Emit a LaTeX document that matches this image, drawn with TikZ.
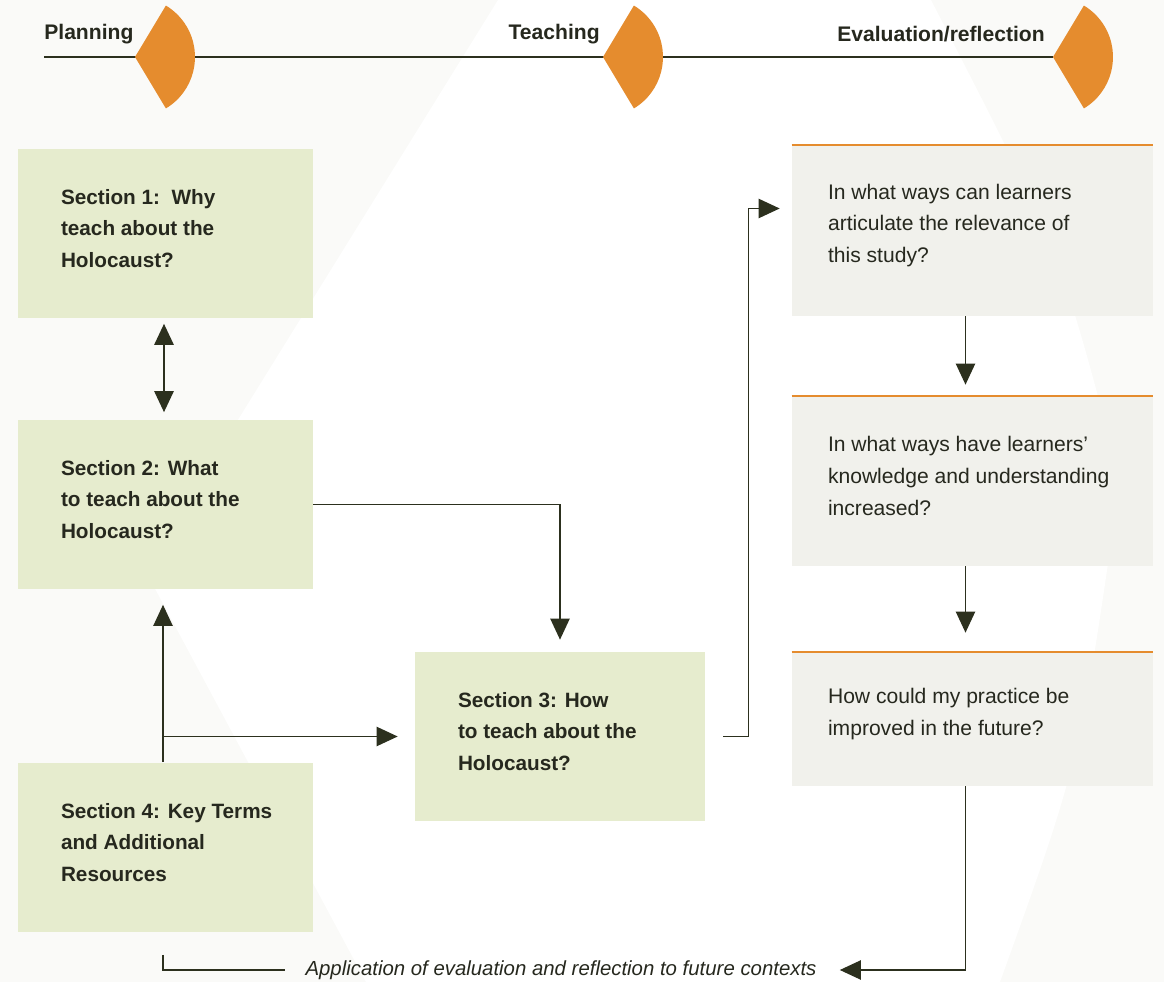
\documentclass[tikz,border=0pt]{standalone}
\usepackage{fontspec}
\setmainfont{Liberation Sans}
\usepackage{tikz}
\usetikzlibrary{calc,arrows.meta}
\definecolor{boxgreen}{RGB}{230,236,206}
\definecolor{boxgrey}{RGB}{241,241,236}
\definecolor{markorange}{RGB}{229,140,46}
\definecolor{linedark}{RGB}{44,48,30}
\definecolor{textdark}{RGB}{38,40,30}
\definecolor{paper}{RGB}{250,250,248}
\tikzstyle{section} = [rectangle, fill=boxgreen, minimum width=5.9cm, minimum height=3.4cm, inner sep=0pt]
\tikzstyle{question} = [rectangle, fill=boxgrey, minimum width=7.22cm, minimum height=3.42cm, inner sep=0pt]
\tikzstyle{sectext} = [anchor=west, inner sep=0pt, xshift=0.86cm, yshift=0.1cm, align=left, text=textdark, font=\bfseries\fontsize{11.8}{18.1}\selectfont]
\tikzstyle{questext} = [anchor=west, inner sep=0pt, xshift=0.72cm, yshift=0.1cm, align=left, text=textdark, font=\fontsize{12}{18.1}\selectfont]
\tikzstyle{phase} = [text=textdark, font=\bfseries\fontsize{12}{14}\selectfont, inner sep=0pt]
\tikzstyle{link} = [draw=linedark, line width=0.8pt, -{Triangle[length=12pt,width=11pt]}]

\begin{document}
\begin{tikzpicture}[x=0.02cm, y=-0.02cm]
%% Background %%
\fill[paper] (0,0) rectangle (1164,982);
\fill[white] (498,0) -- (931,0) .. controls (1060,250) .. (1120,480) .. controls (1080,760) .. (1000,982) -- (366,982) -- (145,570) -- cycle;
\useasboundingbox (0,0) rectangle (1164,982);

%% Timeline %%
\coordinate (tlstart) at (44,57);
\coordinate (planmark) at (135,57);
\coordinate (teachmark) at (603,57);
\coordinate (evalmark) at (1053,57);
\draw[linedark, line width=0.8pt] (tlstart) -- (evalmark);
\foreach \m in {planmark,teachmark,evalmark}
  \fill[markorange] (\m) -- ++(59:60) arc[start angle=59, end angle=-59, radius=60] -- cycle;
\node[phase, anchor=west] (plan) at (44,34) {Planning};
\node[phase, anchor=east] (teach) at (600,34) {Teaching};
\node[phase, anchor=east] (evalu) at (1045,34) {Evaluation/reflection};

%% Sections %%
\node[section, label={[sectext]west:{Section 1:\ \ Why\\teach about the\\Holocaust?}}] (S1) at (165.5,233.5) {};
\node[section, label={[sectext]west:{Section 2: What\\to teach about the\\Holocaust?}}] (S2) at ($(S1)+(0,271)$) {};
\node[section, label={[sectext]west:{Section 4: Key Terms\\and Additional\\Resources}}] (S4) at ($(S2)+(0,343)$) {};
\node[section, minimum width=5.8cm, minimum height=3.38cm, label={[sectext]west:{Section 3: How\\to teach about the\\Holocaust?}}] (S3) at (560,736.5) {};

%% Questions %%
\node[question, label={[questext]west:{In what ways can learners\\articulate the relevance of\\this study?}}] (Q1) at (972.5,230.5) {};
\node[question, minimum height=3.4cm, label={[questext]west:{In what ways have learners'\\knowledge and understanding\\increased?}}] (Q2) at ($(Q1)+(0,250.5)$) {};
\node[question, minimum height=2.68cm, label={[questext]west:{How could my practice be\\improved in the future?}}] (Q3) at ($(Q2)+(0,238)$) {};
\foreach \q in {Q1,Q2,Q3}
  \draw[markorange, line width=1pt] (\q.north west) -- (\q.north east);

\node[text=textdark, font=\itshape\fontsize{11.6}{14}\selectfont, inner sep=0pt] (apply) at (561,970) {Application of evaluation and reflection to future contexts};

%% Connections %%
\draw[link, line width=1.1pt, {Triangle[length=12pt,width=11pt]}-{Triangle[length=12pt,width=11pt]}, shorten <=0.1cm, shorten >=0.14cm] ($(S1.south)+(-1.5,0)$) -- ($(S2.north)+(-1.5,0)$);
\draw[link, shorten >=0.24cm] (S2.east) -| (S3.north);
\coordinate (s4top) at ($(S4.north)+(-2.5,0)$);
\coordinate (fork) at (s4top |- S3.west);
\draw[link, shorten >=0.3cm] (s4top) -- (s4top |- S2.south);
\draw[link, shorten >=0.34cm] (fork) -- (S3.west);
\draw[link, shorten >=0.24cm] ($(S3.east)+(18,0)$) -- ($(S3.east)+(43,0)$) |- ($(Q1.west)+(0,-22)$);
\draw[link, shorten >=0.22cm] ($(Q1.south)+(-7,0)$) -- ($(Q2.north)+(-7,0)$);
\draw[link, shorten >=0.38cm] ($(Q2.south)+(-7,0)$) -- ($(Q3.north)+(-7,0)$);
\draw[link, shorten >=0.46cm] ($(Q3.south)+(-7,0)$) |- (apply.east);
\draw[linedark, line width=0.8pt, shorten <=0.44cm, shorten >=0.4cm] ($(S4.south)+(-2.5,0)$) |- (apply.west);
\end{tikzpicture}
\end{document}
